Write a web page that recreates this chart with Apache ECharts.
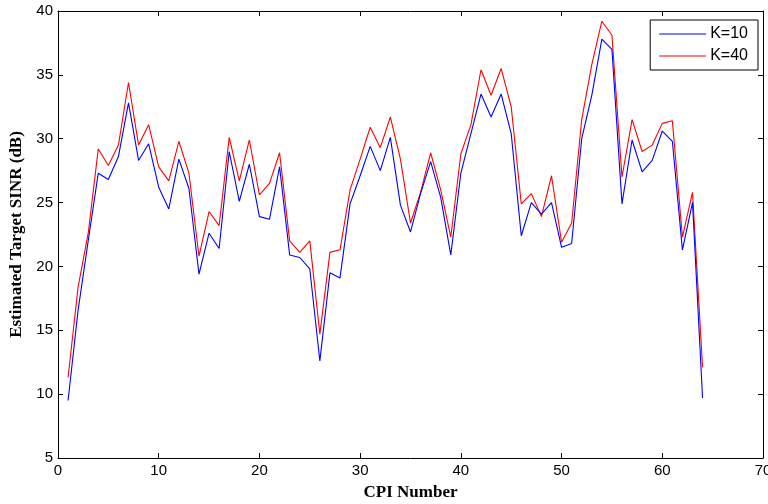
<!DOCTYPE html>
<html>
<head>
<meta charset="utf-8">
<script src="https://cdn.jsdelivr.net/npm/echarts@6/dist/echarts.min.js"></script>
<style>
  html, body { margin: 0; padding: 0; background: #fff; }
  #chart { width: 768px; height: 504px; }
</style>
</head>
<body>
<div id="chart"></div>
<script>
// CPI index 1..64
const cpi = Array.from({ length: 64 }, (_, i) => i + 1);

// Estimated target SINR (dB), K = 10
const sinrK10 = [
  9.5, 16.6, 22.0, 27.3, 26.8, 28.6, 32.8, 28.3, 29.6, 26.2,
  24.5, 28.4, 26.1, 19.4, 22.6, 21.4, 29.0, 25.1, 28.0, 23.9,
  23.7, 27.8, 20.9, 20.7, 19.8, 12.6, 19.5, 19.1, 24.9, 27.1,
  29.4, 27.5, 30.1, 24.8, 22.7, 25.7, 28.2, 25.4, 20.9, 27.3,
  30.4, 33.5, 31.7, 33.5, 30.4, 22.4, 25.0, 24.1, 25.0, 21.5,
  21.8, 30.0, 33.4, 37.8, 37.0, 24.9, 29.9, 27.4, 28.3, 30.6,
  29.8, 21.3, 25.0, 9.7
];

// Estimated target SINR (dB), K = 40
const sinrK40 = [
  11.3, 18.4, 22.6, 29.2, 27.9, 29.5, 34.4, 29.5, 31.1, 27.8,
  26.7, 29.8, 27.3, 20.8, 24.3, 23.2, 30.1, 26.7, 29.9, 25.6,
  26.5, 28.9, 22.0, 21.1, 22.0, 14.7, 21.1, 21.3, 26.0, 28.4,
  30.9, 29.3, 31.7, 28.4, 23.4, 25.8, 28.9, 26.0, 22.3, 28.8,
  31.1, 35.4, 33.4, 35.5, 32.5, 24.9, 25.7, 23.9, 27.1, 21.9,
  23.4, 31.5, 35.8, 39.2, 38.1, 27.0, 31.5, 29.0, 29.5, 31.2,
  31.4, 22.3, 25.8, 12.1
];

const seriesNames = ['K=10', 'K=40'];

const chart = echarts.init(document.getElementById('chart'), null, { renderer: 'canvas' });

const tickFont = { fontFamily: '"Liberation Sans", Arial, sans-serif', fontSize: 15, color: '#000' };
const nameFont = { fontFamily: '"Liberation Serif", "Times New Roman", serif', fontSize: 17, fontWeight: 'bold', color: '#000' };

const xBase = {
  type: 'value', min: 0, max: 70, interval: 10,
  axisLine: { show: true, onZero: false, lineStyle: { color: '#000', width: 1 } },
  axisTick: { show: true, inside: true, length: 5, lineStyle: { color: '#000' } },
  splitLine: { show: false }
};
const yBase = {
  type: 'value', min: 5, max: 40, interval: 5,
  axisLine: { show: true, onZero: false, lineStyle: { color: '#000', width: 1 } },
  axisTick: { show: true, inside: true, length: 5, lineStyle: { color: '#000' } },
  splitLine: { show: false }
};

chart.setOption({
  animation: false,
  backgroundColor: '#fff',
  grid: { left: 58, right: 5, top: 11, bottom: 46, containLabel: false, outerBoundsMode: 'none' },
  legend: {
    data: seriesNames,
    orient: 'vertical',
    right: 10, top: 20,
    backgroundColor: '#fff',
    borderColor: '#000', borderWidth: 1,
    padding: [5, 10, 5, 9],
    icon: 'path://M0,0H48V1H0Z',
    itemWidth: 47, itemHeight: 1, itemGap: 4,
    textStyle: { fontFamily: '"Liberation Sans", Arial, sans-serif', fontSize: 16, lineHeight: 18, color: '#000', padding: [0, 0, 0, -1] }
  },
  xAxis: [
    Object.assign({}, xBase, {
      position: 'bottom',
      name: 'CPI Number', nameLocation: 'middle', nameGap: 26,
      nameTextStyle: nameFont,
      axisLabel: Object.assign({ margin: 5 }, tickFont)
    }),
    Object.assign({}, xBase, { position: 'top', axisLabel: { show: false } })
  ],
  yAxis: [
    Object.assign({}, yBase, {
      position: 'left',
      name: 'Estimated Target SINR (dB)', nameLocation: 'middle', nameGap: 31,
      nameTextStyle: nameFont,
      axisLabel: Object.assign({ margin: 5 }, tickFont)
    }),
    Object.assign({}, yBase, { position: 'right', axisLabel: { show: false } })
  ],
  series: [
    {
      name: seriesNames[0], type: 'line', symbol: 'none',
      data: cpi.map((c, i) => [c, sinrK10[i]]),
      lineStyle: { color: '#0000ff', width: 1.1 }, itemStyle: { color: '#0000ff' },
      z: 3
    },
    {
      name: seriesNames[1], type: 'line', symbol: 'none',
      data: cpi.map((c, i) => [c, sinrK40[i]]),
      lineStyle: { color: '#ff0000', width: 1.1 }, itemStyle: { color: '#ff0000' },
      z: 2
    }
  ]
});
</script>
</body>
</html>
